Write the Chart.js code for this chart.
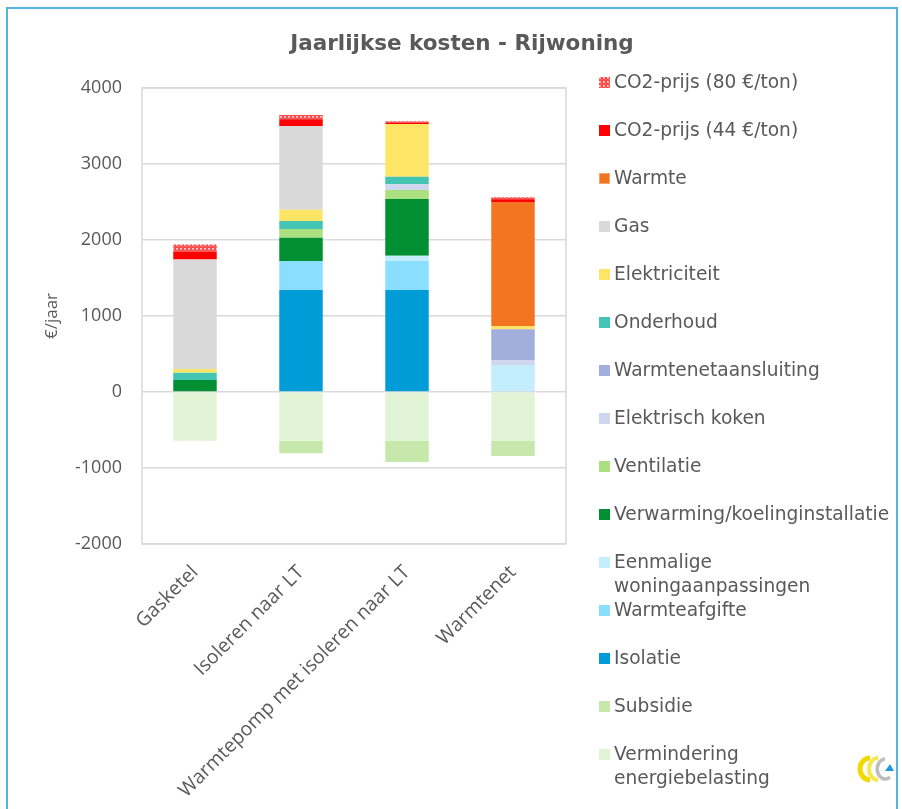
<!DOCTYPE html>
<html lang="nl">
<head>
<meta charset="utf-8">
<title>Jaarlijkse kosten - Rijwoning</title>
<script src="https://cdn.jsdelivr.net/npm/chart.js@4.4.1/dist/chart.umd.min.js"></script>
<style>
    html, body { margin: 0; padding: 0; background: #fff; }
    #wrap { position: relative; width: 902px; height: 809px; overflow: hidden; }
    #frame { position: absolute; left: 6px; top: 7px; width: 892px; height: 900px; border: 2px solid #56B4E0; box-sizing: border-box; }
    #chartBox { position: absolute; left: 0; top: 0; width: 902px; height: 809px; }
    #title { position: absolute; left: 262px; top: 30px; width: 400px; text-align: center;
             font: bold 21.5px 'DejaVu Sans', sans-serif; line-height: 26px; color: #595959; white-space: nowrap; }
    #legend { position: absolute; left: 599px; top: 70px; margin: 0; padding: 0; list-style: none;
              font-family: 'DejaVu Sans', sans-serif; font-size: 18.6px; line-height: 24px; color: #595959; }
    #legend li { height: 48px; display: flex; align-items: flex-start; white-space: nowrap; }
    #legend .swatch { width: 11px; height: 11px; margin-top: 7px; margin-right: 4px; flex: none; box-sizing: border-box; }
    #logo { position: absolute; left: 854px; top: 753px; }
</style>
</head>
<body>
<div id="wrap">
    <div id="frame"></div>
    <div id="chartBox"><canvas id="kostenChart"></canvas></div>
    <div id="title">Jaarlijkse kosten - Rijwoning</div>
    <ul id="legend"></ul>
    <svg id="logo" width="42" height="32" viewBox="0 0 42 32">
        <path d="M16 5 A10 11 0 1 0 16 27" fill="none" stroke="#F3D800" stroke-width="5"/>
        <path d="M24 5 A9 11 0 1 0 24 27" fill="none" stroke="#F6E64F" stroke-width="4"/>
        <path d="M31 6 A8 10 0 1 0 36 24" fill="none" stroke="#BDBDBD" stroke-width="3.5"/>
        <polygon points="31,18 40,18 36,11" fill="#1E9BE0"/>
    </svg>
</div>
<script>
// --- Data ---
const categories = ['Gasketel', 'Isoleren naar LT', 'Warmtepomp met isoleren naar LT', 'Warmtenet'];

const yMin = -2000;
const yMax = 4000;
const yStep = 1000;

const vermindering         = [-640, -640, -645, -645];
const subsidie             = [0, -167, -276, -197];
const isolatie             = [0, 1342, 1342, 0];
const warmteafgifte        = [0, 382, 382, 0];
const eenmalige            = [0, 0, 70, 355];
const verwarming           = [158, 307, 746, 0];
const ventilatie           = [0, 114, 118, 0];
const elektrischKoken      = [0, 0, 75, 66];
const warmtenetaansluiting = [0, 0, 0, 404];
const onderhoud            = [96, 105, 100, 0];
const elektriciteit        = [48, 149, 693, 44];
const gas                  = [1443, 1101, 0, 0];
const warmte               = [0, 0, 0, 1632];
const co2Laag              = [100, 88, 15, 35];
const co2Hoog              = [96, 57, 20, 25];

// checkered red fill for the 80 €/ton series
function makeCo2Pattern() {
    const c = document.createElement('canvas');
    c.width = 4;
    c.height = 4;
    const ctx = c.getContext('2d');
    ctx.fillStyle = '#FF4A4A';
    ctx.fillRect(0, 0, 4, 4);
    ctx.fillStyle = '#FFA8A8';
    ctx.fillRect(0, 0, 2, 2);
    ctx.fillStyle = '#FFE0E0';
    ctx.fillRect(0, 0, 1, 1);
    ctx.fillStyle = '#FF8080';
    ctx.fillRect(2, 2, 1, 1);
    return c;
}
const patternCanvas = makeCo2Pattern();
const co2Pattern = patternCanvas.getContext('2d').createPattern(patternCanvas, 'repeat');

// stacking order: first entry sits closest to the axis
const series = [
    { lines: ['Vermindering', 'energiebelasting'], data: vermindering, color: '#E2F4D6' },
    { lines: ['Subsidie'], data: subsidie, color: '#C6E9AB' },
    { lines: ['Isolatie'], data: isolatie, color: '#009CD8' },
    { lines: ['Warmteafgifte'], data: warmteafgifte, color: '#8ADEFF' },
    { lines: ['Eenmalige', 'woningaanpassingen'], data: eenmalige, color: '#C4EEFE' },
    { lines: ['Verwarming/koelinginstallatie'], data: verwarming, color: '#008F33' },
    { lines: ['Ventilatie'], data: ventilatie, color: '#AAE080' },
    { lines: ['Elektrisch koken'], data: elektrischKoken, color: '#D0D6EE' },
    { lines: ['Warmtenetaansluiting'], data: warmtenetaansluiting, color: '#A2AEDC' },
    { lines: ['Onderhoud'], data: onderhoud, color: '#44C4B3' },
    { lines: ['Elektriciteit'], data: elektriciteit, color: '#FFE566' },
    { lines: ['Gas'], data: gas, color: '#D9D9D9' },
    { lines: ['Warmte'], data: warmte, color: '#F37521', edge: '#F9A36A' },
    { lines: ['CO2-prijs (44 €/ton)'], data: co2Laag, color: '#FF0000' },
    { lines: ['CO2-prijs (80 €/ton)'], data: co2Hoog, color: co2Pattern, swatch: patternCanvas.toDataURL() }
];

const datasets = series.map(s => ({
    label: s.lines.join(' '),
    data: s.data,
    backgroundColor: s.color,
    borderWidth: 0,
    categoryPercentage: 1,
    barPercentage: 0.41
}));

// grey frame round the plot area
const plotFrame = {
    id: 'plotFrame',
    beforeDatasetsDraw(chart) {
        const { ctx, chartArea: a } = chart;
        ctx.save();
        ctx.strokeStyle = '#D9D9D9';
        ctx.lineWidth = 1.5;
        ctx.strokeRect(a.left, a.top, a.right - a.left, a.bottom - a.top);
        ctx.restore();
    }
};

new Chart(document.getElementById('kostenChart'), {
    type: 'bar',
    data: { labels: categories, datasets: datasets },
    plugins: [plotFrame],
    options: {
        responsive: true,
        maintainAspectRatio: false,
        animation: false,
        layout: { padding: { left: 38, right: 336, top: 88, bottom: 0 } },
        plugins: {
            legend: { display: false },
            tooltip: { enabled: false },
            title: { display: false }
        },
        scales: {
            x: {
                stacked: true,
                grid: { display: false },
                border: { display: false },
                ticks: {
                    color: '#595959',
                    font: { family: "'Open Sans', sans-serif", size: 19.5 },
                    minRotation: 45,
                    maxRotation: 45,
                    padding: 9,
                    autoSkip: false
                },
                afterFit: (scale) => { scale.height = 265; }
            },
            y: {
                stacked: true,
                min: yMin,
                max: yMax,
                grid: { color: '#D9D9D9', lineWidth: 1.5, drawTicks: false },
                border: { display: false },
                ticks: {
                    stepSize: yStep,
                    color: '#595959',
                    font: { family: "'Open Sans', sans-serif", size: 18 },
                    padding: 20,
                    callback: (v) => String(v)
                },
                title: {
                    display: true,
                    text: '€/jaar',
                    color: '#595959',
                    font: { family: "'Open Sans', sans-serif", size: 17 },
                    padding: { top: 4, bottom: 4 }
                },
                afterFit: (scale) => { scale.width = 104; }
            }
        }
    }
});

// legend in Excel order: last series on top
const legend = document.getElementById('legend');
series.slice().reverse().forEach(s => {
    const li = document.createElement('li');
    const sw = document.createElement('span');
    sw.className = 'swatch';
    if (s.swatch) {
        sw.style.backgroundImage = `url(${s.swatch})`;
    } else {
        sw.style.background = s.color;
    }
    if (s.edge) sw.style.border = `1.5px solid ${s.edge}`;
    const txt = document.createElement('span');
    txt.innerHTML = s.lines.join('<br>');
    li.appendChild(sw);
    li.appendChild(txt);
    legend.appendChild(li);
});
</script>
</body>
</html>
